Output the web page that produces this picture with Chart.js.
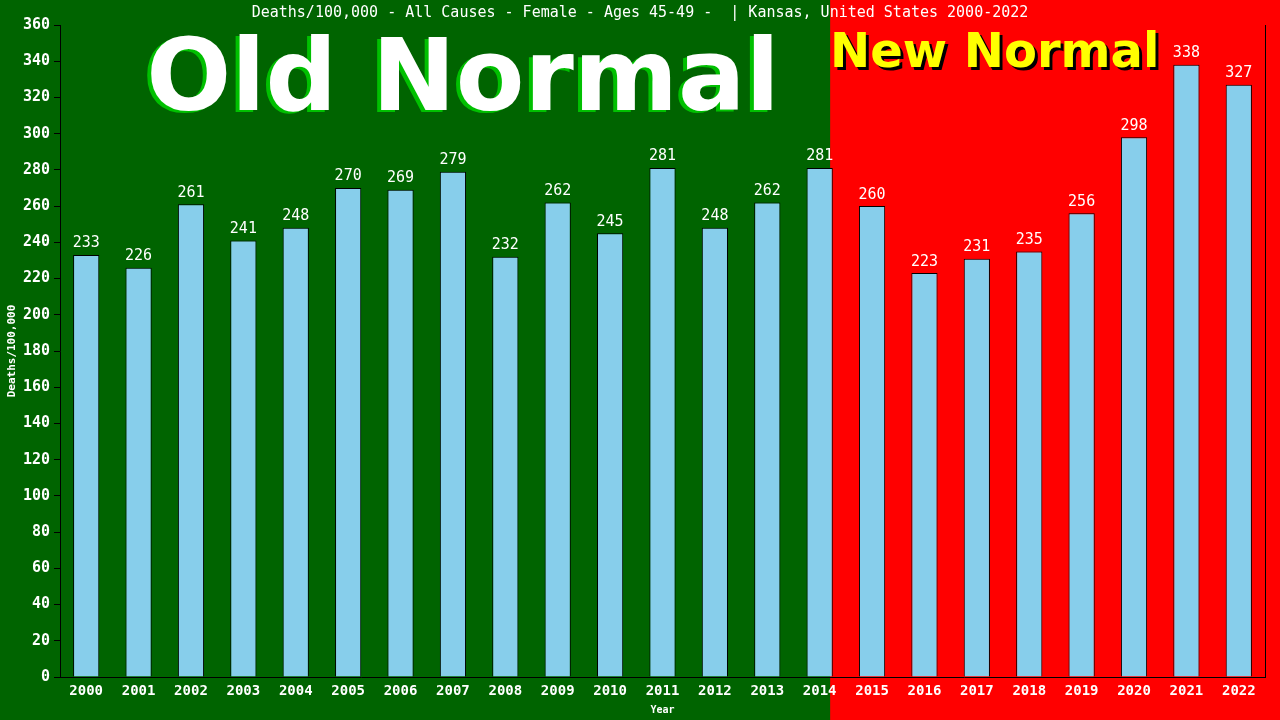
<!DOCTYPE html>
<html>
<head>
<meta charset="utf-8">
<script src="https://cdn.jsdelivr.net/npm/chart.js@4/dist/chart.umd.min.js"></script>
<style>
html,body{margin:0;padding:0;background:#006400;}
#wrap{width:1280px;height:720px;}
</style>
</head>
<body>
<div id="wrap"><canvas id="c" width="1280" height="720"></canvas></div>
<script>
const years = ["2000","2001","2002","2003","2004","2005","2006","2007","2008","2009","2010","2011","2012","2013","2014","2015","2016","2017","2018","2019","2020","2021","2022"];
const deaths = [233,226,261,241,248,270,269,279,232,262,245,281,248,262,281,260,223,231,235,256,298,338,327];
const yTicks = [0,20,40,60,80,100,120,140,160,180,200,220,240,260,280,300,320,340,360];
const titleText = "Deaths/100,000 - All Causes - Female - Ages 45-49 -  | Kansas, United States 2000-2022";
const splitIndex = 14;

const mono = "'DejaVu Sans Mono', 'Liberation Mono', monospace";

const bgPlugin = {
  id: 'bg',
  beforeDraw(chart) {
    const {ctx, scales:{x}} = chart;
    const p0 = x.getPixelForValue(splitIndex), p1 = x.getPixelForValue(splitIndex+1);
    const split = p0 + (p1 - p0) * 0.2;
    ctx.save();
    ctx.fillStyle = '#006400';
    ctx.fillRect(0, 0, split, chart.height);
    ctx.fillStyle = '#ff0000';
    ctx.fillRect(split, 0, chart.width - split, chart.height);
    // title
    ctx.fillStyle = '#ffffff';
    ctx.font = "15px " + mono;
    ctx.textAlign = 'center';
    ctx.textBaseline = 'middle';
    ctx.fillText(titleText, 640, 13);
    // Old Normal
    ctx.font = "bold 100px 'DejaVu Sans', Verdana, sans-serif";
    ctx.textAlign = 'center';
    ctx.textBaseline = 'alphabetic';
    ctx.fillStyle = '#00c000';
    ctx.fillText("Old Normal", 459, 112);
    ctx.fillStyle = '#ffffff';
    ctx.fillText("Old Normal", 463, 110);
    // New Normal
    ctx.font = "bold 48px 'DejaVu Sans', Verdana, sans-serif";
    ctx.textAlign = 'left';
    ctx.fillStyle = '#000000';
    ctx.fillText("New Normal", 833, 70);
    ctx.fillStyle = '#ffff00';
    ctx.fillText("New Normal", 830, 67);
    ctx.restore();
  },
  afterDatasetsDraw(chart) {
    const {ctx, chartArea} = chart;
    const meta = chart.getDatasetMeta(0);
    ctx.save();
    ctx.fillStyle = '#ffffff';
    ctx.font = "15px " + mono;
    ctx.textAlign = 'center';
    ctx.textBaseline = 'bottom';
    meta.data.forEach((bar, i) => {
      ctx.fillText(String(deaths[i]), bar.x, bar.y - 4);
    });
    // right border line
    ctx.strokeStyle = '#000';
    ctx.lineWidth = 1;
    ctx.beginPath();
    ctx.moveTo(Math.round(chartArea.right) + 0.5, chartArea.top);
    ctx.lineTo(Math.round(chartArea.right) + 0.5, chartArea.bottom);
    ctx.stroke();
    ctx.restore();
  }
};

new Chart(document.getElementById('c'), {
  type: 'bar',
  data: {
    labels: years,
    datasets: [{
      data: deaths,
      backgroundColor: '#87ceeb',
      borderColor: '#000000',
      borderWidth: 1,
      barPercentage: 0.5,
      categoryPercentage: 1.0
    }]
  },
  options: {
    responsive: false,
    animation: false,
    devicePixelRatio: 1,
    layout: { padding: { left: 0, right: 15, top: 25, bottom: 0 } },
    plugins: { legend: { display: false }, tooltip: { enabled: false }, title: { display: false } },
    scales: {
      x: {
        grid: { display: false, drawTicks: false },
        border: { display: true, color: '#000', width: 1 },
        ticks: { color: '#fff', font: { family: mono, size: 14, weight: 'bold' }, padding: 6, maxRotation: 0, autoSkip: false },
        title: { display: true, text: 'Year', color: '#fff', font: { family: mono, size: 10, weight: 'bold' }, padding: { top: 0, bottom: 4 } },
        afterFit(s) { s.height = 43; }
      },
      y: {
        min: 0, max: 360,
        afterBuildTicks(s) { s.ticks = yTicks.map(v => ({ value: v })); },
        grid: { display: true, drawOnChartArea: false, drawTicks: true, tickLength: 6, color: '#000' },
        border: { display: true, color: '#000', width: 1 },
        ticks: { color: '#fff', font: { family: mono, size: 15, weight: 'bold' }, padding: 4 },
        title: { display: true, text: 'Deaths/100,000', color: '#fff', font: { family: mono, size: 11, weight: 'bold' }, padding: { top: 6, bottom: 2 } },
        afterFit(s) { s.width = 60; }
      }
    }
  },
  plugins: [bgPlugin]
});
</script>
</body>
</html>
